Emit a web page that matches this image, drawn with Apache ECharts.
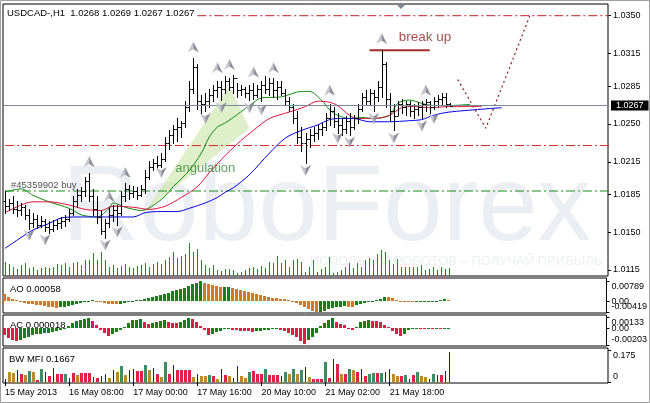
<!DOCTYPE html>
<html><head><meta charset="utf-8">
<script src="https://cdn.jsdelivr.net/npm/echarts@6/dist/echarts.min.js"></script>
<style>html,body{margin:0;padding:0;background:#fff}#c{width:650px;height:403px}</style>
</head><body><div id="c"></div>
<script>
// ---------------- DATA ----------------
const symbolTitle = 'USDCAD-,H1';
const tickLabels = ['15 May 2013','16 May 08:00','17 May 00:00','17 May 16:00','20 May 10:00','21 May 02:00','21 May 18:00'];
const barsPerTick = 16;
const slotCount = 151;
const priceTicks = [1.0115, 1.0150, 1.0185, 1.0215, 1.0250, 1.0285, 1.0315, 1.0350];

const open = [1.0179,1.0174,1.0177,1.0171,1.0170,1.0173,1.0166,1.0158,1.0162,1.0157,
1.0160,1.0155,1.0153,1.0157,1.0158,1.0160,1.0162,1.0168,1.0179,1.0184,
1.0188,1.0197,1.0183,1.0171,1.0164,1.0151,1.0158,1.0166,1.0170,1.0168,
1.0183,1.0190,1.0186,1.0188,1.0184,1.0190,1.0201,1.0210,1.0214,1.0212,
1.0218,1.0232,1.0240,1.0245,1.0247,1.0251,1.0266,1.0282,1.0303,1.0271,
1.0268,1.0271,1.0277,1.0281,1.0284,1.0282,1.0290,1.0284,1.0292,1.0281,
1.0282,1.0279,1.0281,1.0277,1.0282,1.0286,1.0282,1.0288,1.0281,1.0284,
1.0279,1.0271,1.0266,1.0255,1.0238,1.0232,1.0236,1.0240,1.0242,1.0245,
1.0247,1.0255,1.0262,1.0253,1.0249,1.0245,1.0253,1.0247,1.0255,1.0264,
1.0275,1.0271,1.0279,1.0275,1.0284,1.0305,1.0273,1.0262,1.0257,1.0268,
1.0266,1.0268,1.0262,1.0264,1.0266,1.0268,1.0270,1.0266,1.0271,1.0273,
1.0275,1.0268];
const high = [1.0188,1.0181,1.0183,1.0179,1.0177,1.0175,1.0171,1.0168,1.0166,1.0165,
1.0162,1.0160,1.0161,1.0162,1.0164,1.0166,1.0171,1.0183,1.0190,1.0192,
1.0201,1.0205,1.0190,1.0183,1.0170,1.0162,1.0173,1.0175,1.0175,1.0188,
1.0195,1.0194,1.0193,1.0192,1.0194,1.0207,1.0216,1.0218,1.0220,1.0223,
1.0238,1.0244,1.0249,1.0255,1.0253,1.0271,1.0290,1.0311,1.0305,1.0277,
1.0279,1.0282,1.0286,1.0290,1.0290,1.0294,1.0292,1.0295,1.0288,1.0286,
1.0284,1.0286,1.0288,1.0286,1.0290,1.0294,1.0292,1.0292,1.0290,1.0290,
1.0282,1.0275,1.0268,1.0262,1.0247,1.0242,1.0245,1.0247,1.0249,1.0251,
1.0260,1.0268,1.0266,1.0260,1.0255,1.0257,1.0260,1.0258,1.0268,1.0279,
1.0281,1.0282,1.0281,1.0290,1.0318,1.0307,1.0279,1.0268,1.0271,1.0273,
1.0271,1.0271,1.0268,1.0270,1.0271,1.0273,1.0271,1.0275,1.0277,1.0279,
1.0279,1.0269];
const low = [1.0168,1.0170,1.0168,1.0165,1.0166,1.0162,1.0153,1.0155,1.0154,1.0155,
1.0151,1.0149,1.0151,1.0153,1.0154,1.0156,1.0160,1.0166,1.0173,1.0179,
1.0183,1.0179,1.0166,1.0158,1.0148,1.0145,1.0155,1.0160,1.0157,1.0166,
1.0179,1.0181,1.0182,1.0181,1.0183,1.0186,1.0199,1.0207,1.0208,1.0210,
1.0216,1.0227,1.0232,1.0234,1.0238,1.0247,1.0262,1.0279,1.0264,1.0260,
1.0262,1.0266,1.0271,1.0275,1.0272,1.0279,1.0281,1.0279,1.0275,1.0277,
1.0275,1.0272,1.0273,1.0275,1.0271,1.0279,1.0277,1.0275,1.0273,1.0277,
1.0268,1.0262,1.0251,1.0232,1.0225,1.0214,1.0229,1.0234,1.0236,1.0240,
1.0244,1.0249,1.0247,1.0242,1.0240,1.0242,1.0240,1.0245,1.0251,1.0262,
1.0268,1.0268,1.0262,1.0271,1.0275,1.0266,1.0253,1.0244,1.0258,1.0260,
1.0258,1.0257,1.0255,1.0258,1.0255,1.0262,1.0260,1.0264,1.0266,1.0268,
1.0266,1.0267];
const close = [1.0174,1.0177,1.0171,1.0170,1.0173,1.0166,1.0158,1.0162,1.0157,1.0160,
1.0155,1.0153,1.0157,1.0158,1.0160,1.0162,1.0168,1.0179,1.0184,1.0188,
1.0197,1.0183,1.0171,1.0164,1.0151,1.0158,1.0166,1.0170,1.0168,1.0183,
1.0190,1.0186,1.0188,1.0184,1.0190,1.0201,1.0210,1.0214,1.0212,1.0218,
1.0232,1.0240,1.0245,1.0247,1.0251,1.0266,1.0282,1.0303,1.0271,1.0268,
1.0271,1.0277,1.0281,1.0284,1.0282,1.0290,1.0284,1.0292,1.0281,1.0282,
1.0279,1.0281,1.0277,1.0282,1.0286,1.0282,1.0288,1.0281,1.0284,1.0279,
1.0271,1.0266,1.0255,1.0238,1.0232,1.0236,1.0240,1.0242,1.0245,1.0247,
1.0255,1.0262,1.0253,1.0249,1.0245,1.0253,1.0247,1.0255,1.0264,1.0275,
1.0271,1.0279,1.0275,1.0284,1.0305,1.0273,1.0262,1.0257,1.0268,1.0266,
1.0268,1.0262,1.0264,1.0266,1.0268,1.0270,1.0266,1.0271,1.0273,1.0275,
1.0268,1.0267];
const tickVolume = [14,12,9,7,11,13,8,9,6,8, 9,8,9,12,11,13,9,13,14,11,
16,16,23,16,24,16,9,11,8,10, 12,9,8,10,11,13,9,12,14,12,
16,19,24,18,20,22,33,24,27,16, 11,8,11,6,5,7,7,6,3,4,
6,8,9,7,10,8,14,13,20,13, 16,9,16,17,14,4,9,16,4,7,
9,19,3,4,6,9,13,8,13,9, 16,18,16,22,26,24,16,12,17,9,
9,9,9,9,11,6,7,9,6,9, 7,8];

// Alligator-style moving averages, sampled [bar, price]
const lipsGreen = [[0,1.0187],[4,1.0190],[7,1.0184],[11,1.0178],[16,1.0172],[19,1.0166],[23,1.0164],[26,1.0172],[27,1.0177],[30,1.0173],[34,1.0170],[39,1.0180],[42,1.0192],[46,1.0207],[49,1.0223],[51,1.0238],[53,1.0247],[55,1.0251],[57,1.0256],[61,1.0267],[64,1.0274],[69,1.0275],[74,1.0280],[76,1.0280],[79,1.0272],[81,1.0263],[83,1.0258],[86,1.0255],[89,1.0256],[92,1.0255],[96,1.0258],[98,1.0269],[101,1.0272],[104,1.0269],[107,1.0267],[111,1.0267],[116,1.0268]];
const teethRed = [[0,1.0168],[4,1.0175],[7,1.0178],[11,1.0178],[16,1.0175],[20,1.0171],[24,1.0170],[27,1.0174],[32,1.0173],[36,1.0171],[40,1.0174],[44,1.0182],[48,1.0192],[51,1.0205],[54,1.0217],[55,1.0221],[59,1.0235],[62,1.0244],[66,1.0255],[71,1.0261],[75,1.0266],[78,1.0271],[81,1.0270],[83,1.0267],[86,1.0258],[88,1.0255],[92,1.0255],[96,1.0258],[99,1.0265],[102,1.0266],[106,1.0265],[111,1.0266],[119,1.0266]];
const jawBlue = [[0,1.0135],[4,1.0145],[7,1.0152],[11,1.0158],[14,1.0163],[18,1.0164],[22,1.0164],[26,1.0164],[29,1.0164],[32,1.0164],[35,1.0168],[39,1.0169],[43,1.0169],[46,1.0172],[50,1.0177],[53,1.0182],[55,1.0187],[57,1.0191],[61,1.0203],[66,1.0223],[70,1.0237],[74,1.0244],[78,1.0249],[81,1.0254],[83,1.0255],[87,1.0255],[91,1.0252],[96,1.0252],[101,1.0253],[104,1.0254],[107,1.0258],[111,1.0261],[124,1.0265]];

const upFractals = [[21,1.0215],[26,1.0183],[30,1.0205],[47,1.0321],[53,1.0302],[56,1.0305],[62,1.0298],[67,1.0302],[81,1.0281],[94,1.0329],[105,1.0281]];
const downFractals = [[6,1.0147],[10,1.0143],[25,1.0138],[28,1.0150],[39,1.0205],[50,1.0255],[54,1.0265],[61,1.0265],[64,1.0263],[75,1.0207],[83,1.0237],[86,1.0233],[92,1.0255],[97,1.0237],[104,1.0248],[107,1.0255]];

const buyOrder = {text:'#45359902 buy', price:1.0188, bar:1};
const levelRed = 1.0230;
const levelTop = {price:1.0350, fromBar:48};
const breakUp = {text:'break up', price:1.0318, fromBar:91, toBar:106, labelBar:98, labelPrice:1.0330};
const angulation = {text:'angulation', bar:42, price:1.0209, wedge:[[35,1.0169],[56,1.0285],[61,1.0246]]};
const forecastPath = [[113,1.0291],[120,1.0246],[131,1.0350]];

const ao = [0.00273,0.00156,0.00078,0.00039,-0.0002,-0.00059,-0.00098,-0.00117,-0.00137,-0.00156,
-0.00176,-0.00215,-0.00234,-0.00254,-0.00234,-0.00215,-0.00195,-0.00156,-0.00117,-0.00078,
-0.00039,0.0002,0.00039,0.00012,-0.0002,-0.00059,-0.00098,-0.00117,-0.00125,-0.00098,
-0.00059,-0.00031,0.00012,0.00039,0.00059,0.00098,0.00137,0.00176,0.00215,0.00254,
0.00293,0.00332,0.0039,0.00429,0.00468,0.00527,0.00585,0.00663,0.00722,0.0078,
0.00702,0.00663,0.00624,0.00585,0.00546,0.00558,0.0057,0.00507,0.00468,0.00429,
0.0039,0.00351,0.00312,0.00273,0.00234,0.00195,0.00164,0.00137,0.00117,0.00098,
0.00078,0.00039,-0.0002,-0.00078,-0.00156,-0.00234,-0.00312,-0.0039,-0.00419,-0.004,
-0.0037,-0.00312,-0.00273,-0.00234,-0.00215,-0.00195,-0.00207,-0.00218,-0.00156,-0.00117,
-0.00078,-0.00039,0.00012,0.00039,0.00098,0.00156,0.00148,0.00117,0.00059,0.0002,
-0.0002,-0.00039,-0.00047,-0.00031,-0.00023,-0.0002,-0.00012,0.00002,0.00012,0.00035,
0.0007,0.00058];
const aoTickValues = [0.00789, 0, -0.00419];
const aoTickLabels = ['0.00789', '0.00', '-0.00419'];

const ac = [-0.0008,-0.0012,-0.00144,-0.00156,-0.0014,-0.0012,-0.00102,-0.00084,-0.00072,-0.00066,
-0.0006,-0.00054,-0.00042,-0.0003,-0.00018,0.00006,0.00024,0.0006,0.0009,0.00096,
0.00108,0.0012,0.00084,0.00036,-0.00024,-0.0006,-0.00096,-0.00072,-0.00048,-0.00024,
0.00012,0.0006,0.00096,0.00102,0.00104,0.00072,0.00048,0.0006,0.00078,0.0009,
0.00096,0.00078,0.00066,0.0006,0.00072,0.00096,0.0012,0.00108,0.00072,0.00024,
-0.00024,-0.0008,-0.00066,-0.00048,-0.0003,-0.00012,-0.00006,-0.00018,-0.00024,-0.0003,
-0.00036,-0.0004,-0.00042,-0.00036,-0.0003,-0.00024,-0.00018,-0.00012,-0.0001,-0.00018,
-0.00036,-0.0006,-0.00084,-0.00108,-0.0015,-0.00185,-0.00144,-0.00108,-0.0006,0.00024,
0.0006,0.00096,0.0012,0.00072,0.00048,0.00036,-0.00012,-0.00018,0.00012,0.00072,
0.00084,0.00096,0.0009,0.00084,0.00072,0.00036,0.00012,-0.00036,-0.00072,-0.00096,
-0.00072,-0.00024,-0.00012,-0.00008,-0.0001,-0.00012,-0.00006,-0.00007,-0.00006,-0.00007,
-0.00005,0.000018];
const acTickValues = [0.00133, 0, -0.00203];
const acTickLabels = ['0.00133', '0.00', '-0.00203'];

const mfi = [0.016,0.055,0.049,0.066,0.042,0.038,0.059,0.055,0.009,0.069,
0.055,0.031,0.078,0.045,0.045,0.042,0.022,0.049,0.037,0.049,
0.049,0.049,0.027,0.022,0.031,0.042,0.022,0.064,0.055,0.088,
0.037,0.066,0.071,0.06,0.06,0.091,0.064,0.077,0.045,0.027,
0.109,0.045,0.091,0.064,0.064,0.064,0.064,0.027,0.045,0.034,
0.034,0.037,0.031,0.016,0.073,0.037,0.031,0.022,0.088,0.031,
0.022,0.055,0.059,0.042,0.042,0.069,0.037,0.037,0.037,0.031,
0.055,0.042,0.071,0.045,0.064,0.082,0.027,0.018,0.018,0.018,
0.109,0.024,0.126,0.097,0.045,0.042,0.073,0.064,0.055,0.073,
0.031,0.042,0.049,0.049,0.049,0.055,0.069,0.045,0.031,0.031,
0.037,0.016,0.037,0.053,0.031,0.027,0.016,0.042,0.037,0.037,
0.059,0.1667];
// g = green (MFI+ Vol+), b = brown (MFI- Vol-), u = blue (MFI+ Vol-), p = pink (MFI- Vol+)
const mfiZone = ('ubbupbgbpg'+'upuppgupbp'+'ppupuububg'+'buuppgbupb'+'gpuppppbub'+
                 'bgpbupbuub'+'bgpppgpppu'+'gbgbgubppp'+'gpupbpgbpu'+'pggpguubbp'+
                 'gupgbbugup'+'uu').split('');
const mfiTickValues = [0.175, 0];
const mfiTickLabels = ['0.175', '0'];

// ---------------- CHART ----------------
const FONT = '"Liberation Sans", Arial, sans-serif';
const N = close.length;
const cats = Array.from({length: slotCount}, (_, i) => String(i));
const last = N - 1;
const firstSlot = -0.5, lastSlot = slotCount - 0.5;   // plot edges in category units

const aoColor = i => (i > 0 && ao[i] > ao[i-1]) ? '#1c7c1c' : '#d2782c';
const acColor = i => (i > 0 && ac[i] > ac[i-1]) ? '#1c7c1c' : '#dc1e46';
const mfiColors = {g:'#3d8c63', b:'#b88c2c', u:'#1a1a8c', p:'#dc2248'};

function xAxisFor(gi, showLabels) {
  return {
    type:'category', gridIndex:gi, data:cats, boundaryGap:true,
    axisLine:{show:false}, splitLine:{show:false},
    axisTick: showLabels ? {show:true, alignWithLabel:true, length:4, lineStyle:{color:'#000'},
        interval:(i)=> i % barsPerTick === 0 && (i / barsPerTick) < tickLabels.length} : {show:false},
    axisLabel: showLabels ? {show:true, interval:0, align:'left', margin:5, fontFamily:FONT, fontSize:9, color:'#000',
        formatter:(v, i)=> (i % barsPerTick === 0 && tickLabels[i / barsPerTick]) ? tickLabels[i / barsPerTick] : ''} : {show:false}
  };
}
// each indicator pane gets two right axes: one for its extreme labels, one for its zero label
function subAxes(gi, min, max, vals, texts) {
  const ext = [vals[0], vals[vals.length - 1]];
  const extTxt = [texts[0], texts[texts.length - 1]];
  const mids = vals.slice(1, -1), midTxt = texts.slice(1, -1);
  const find = (arr, v) => arr.findIndex(t => Math.abs(t - v) < 1e-9);
  const base = {type:'value', gridIndex:gi, position:'right', min:min, max:max,
    axisLine:{show:false}, splitLine:{show:false}};
  const a = Object.assign({}, base, {
    axisTick:{show:true, length:3, customValues:ext, lineStyle:{color:'#000'}},
    axisLabel:{show:true, customValues:ext, margin:5, hideOverlap:false, fontFamily:FONT, fontSize:9, color:'#000',
      formatter: v => { const k = find(ext, v); const s = k >= 0 ? extTxt[k] : String(v);
        return k === 0 ? '{t|' + s + '}' : '{b|' + s + '}'; },
      rich:{t:{padding:[11,0,0,0], fontFamily:FONT, fontSize:9, color:'#000'},
            b:{padding:[0,0,11,0], fontFamily:FONT, fontSize:9, color:'#000'}}}});
  const out = [a];
  if (mids.length) {
    out.push(Object.assign({}, base, {
      axisTick:{show:true, length:3, customValues:mids, lineStyle:{color:'#000'}},
      axisLabel:{show:true, customValues:mids, margin:5, hideOverlap:false, fontFamily:FONT, fontSize:9, color:'#000',
        formatter: v => { const k = find(mids, v); return k >= 0 ? midTxt[k] : String(v); }}}));
  }
  return out;
}
function histo(values, colorFn, widthFn) {
  return function(params, api) {
    const i = api.value(0), v = api.value(1);
    const p = api.coord([i, v]), p0 = api.coord([i, 0]);
    const w = widthFn(i);
    const x = Math.round(p[0] - w / 2);
    const y1 = Math.round(Math.min(p[1], p0[1])), y2 = Math.round(Math.max(p[1], p0[1]));
    return {type:'rect', shape:{x:x, y:y1, width:w, height:Math.max(1, y2 - y1)}, style:{fill:colorFn(i)}};
  };
}
function hLine(name, price, from, to, color, type, width) {
  return {type:'line', name:name, xAxisIndex:0, yAxisIndex:0, z:2, silent:true, showSymbol:false,
    data:[[from, price], [to, price]], lineStyle:{color:color, type:type, width:width}};
}

const chart = echarts.init(document.getElementById('c'), null, {renderer:'canvas', width:650, height:403});
const ttl = {fontFamily:FONT, fontSize:9.5, fontWeight:'normal', color:'#000'};
const dashDot = [9,3,2,3];

const aoAxes = subAxes(1, -0.00458, 0.00906, aoTickValues, aoTickLabels);
const acAxes = subAxes(2, -0.00215, 0.00157, acTickValues, acTickLabels);
const mfiAxes = subAxes(3, -0.0054688, 0.18594, mfiTickValues, mfiTickLabels);
const yAxes = [
  {type:'value', gridIndex:0, position:'right', min:1.010945, max:1.036081,
    axisLine:{show:false}, splitLine:{show:false},
    axisTick:{show:true, length:3, customValues:priceTicks, lineStyle:{color:'#000'}},
    axisLabel:{show:true, customValues:priceTicks, margin:5, hideOverlap:false, fontFamily:FONT, fontSize:9, color:'#000', formatter:v => v.toFixed(4)}},
  {type:'value', gridIndex:0, min:0, max:272, show:false}
];
const aoY = yAxes.length; yAxes.push(...aoAxes);
const acY = yAxes.length; yAxes.push(...acAxes);
const mfiY = yAxes.length; yAxes.push(...mfiAxes);

const option = {
  animation:false,
  backgroundColor:'#fff',
  title:[
    {text: symbolTitle + '  ' + [open[last], high[last], low[last], close[last]].map(v => v.toFixed(4)).join(' '), left:7, top:8, padding:0, textStyle:ttl},
    {text:'AO ' + ao[last].toFixed(5), left:10, top:284, padding:0, textStyle:ttl},
    {text:'AC ' + ac[last].toFixed(6), left:10, top:320, padding:0, textStyle:ttl},
    {text:'BW MFI ' + mfi[last].toFixed(4), left:9, top:354, padding:0, textStyle:ttl}
  ],
  graphic:[
    {type:'rect', z:0, silent:true, shape:{x:0.5, y:0.5, width:649, height:402}, style:{fill:'none', stroke:'#a0a0a0'}},
    {type:'text', z:0, silent:true, x:62, y:210, style:{text:'RoboForex', fontSize:107, fontFamily:FONT, fill:'#ebeef3', verticalAlign:'middle'}},
    {type:'text', z:0, silent:true, x:310, y:261, style:{text:'ИСПОЛЬЗУЙ РОБОТОВ – ПОЛУЧАЙ ПРИБЫЛЬ', fontSize:13, fontFamily:FONT, fill:'#edeff4', verticalAlign:'middle'}},
    {type:'polygon', z:5, silent:true, shape:{points:[[396,4],[406,4],[401,9]]}, style:{fill:'#7f8890'}}
  ],
  grid:[
    {left:3, top:4, width:605, height:272, show:true, borderColor:'#000', borderWidth:1, backgroundColor:'transparent'},
    {left:3, top:278, width:605, height:35, show:true, borderColor:'#000', borderWidth:1, backgroundColor:'transparent'},
    {left:3, top:315, width:605, height:31, show:true, borderColor:'#000', borderWidth:1, backgroundColor:'transparent'},
    {left:3, top:348, width:605, height:35, show:true, borderColor:'#000', borderWidth:1, backgroundColor:'transparent'}
  ],
  xAxis:[xAxisFor(0,false), xAxisFor(1,false), xAxisFor(2,false), xAxisFor(3,true)],
  yAxis:yAxes,
  series:[
    {type:'custom', name:'angulation', xAxisIndex:0, yAxisIndex:0, z:1, silent:true,
      data:[angulation.wedge[0]],
      renderItem:(params, api) => ({type:'polygon', shape:{points:angulation.wedge.map(p => api.coord(p))},
        style:{fill:'rgba(200,229,165,0.6)'}})},
    {type:'custom', name:'volume', xAxisIndex:0, yAxisIndex:1, z:2, silent:true,
      data:tickVolume.map((v,i) => [i, v]), encode:{x:0, y:1},
      renderItem:histo(tickVolume, () => '#2f7f2f', () => 1)},
    {type:'line', name:'price', xAxisIndex:0, yAxisIndex:0, z:2, data:[], silent:true, showSymbol:false,
      markLine:{silent:true, symbol:['none','none'], precision:4, animation:false,
        lineStyle:{color:'#778899', type:'solid', width:1},
        label:{show:true, position:'end', distance:3, formatter:close[last].toFixed(4), backgroundColor:'#000', color:'#fff',
          fontFamily:FONT, fontSize:9, padding:[1,5,0,5]},
        data:[{yAxis:close[last]}]}},
    hLine('levelRed', levelRed, firstSlot, lastSlot, '#d8282c', dashDot, 1),
    hLine('buyLevel', buyOrder.price, firstSlot, lastSlot, '#1a8a1a', dashDot, 1),
    hLine('levelTop', levelTop.price, levelTop.fromBar, lastSlot, '#c42028', dashDot, 1),
    hLine('breakUp', breakUp.price, breakUp.fromBar, breakUp.toBar, '#a52a2a', 'solid', 2),
    {type:'line', name:'lips', xAxisIndex:0, yAxisIndex:0, z:3, data:lipsGreen, smooth:0.3, showSymbol:false, silent:true,
      lineStyle:{color:'#108a10', width:1}},
    {type:'line', name:'teeth', xAxisIndex:0, yAxisIndex:0, z:3, data:teethRed, smooth:0.3, showSymbol:false, silent:true,
      lineStyle:{color:'#dc143c', width:1}},
    {type:'line', name:'jaw', xAxisIndex:0, yAxisIndex:0, z:3, data:jawBlue, smooth:0.3, showSymbol:false, silent:true,
      lineStyle:{color:'#0000e6', width:1}},
    {type:'line', name:'forecast', xAxisIndex:0, yAxisIndex:0, z:3, data:forecastPath, showSymbol:false, silent:true,
      lineStyle:{color:'#8b1a1a', width:1.2, type:[2,3]}},
    {type:'custom', name:'bars', xAxisIndex:0, yAxisIndex:0, z:4, silent:true,
      data:open.map((o,i) => [i, o, high[i], low[i], close[i]]), encode:{x:0, y:[1,2,3,4]},
      renderItem:(params, api) => {
        const i = api.value(0);
        const pO = api.coord([i, api.value(1)]), pH = api.coord([i, api.value(2)]);
        const pL = api.coord([i, api.value(3)]), pC = api.coord([i, api.value(4)]);
        const x = Math.round(pH[0]) + 0.5;
        const yo = Math.round(pO[1]) + 0.5, yc = Math.round(pC[1]) + 0.5;
        const st = {stroke:'#000', lineWidth:1};
        return {type:'group', children:[
          {type:'line', shape:{x1:x, y1:Math.round(pH[1]), x2:x, y2:Math.round(pL[1]) + 1}, style:st},
          {type:'line', shape:{x1:x - 2, y1:yo, x2:x, y2:yo}, style:st},
          {type:'line', shape:{x1:x, y1:yc, x2:x + 2, y2:yc}, style:st}
        ]};
      }},
    {type:'scatter', name:'fractalUpL', xAxisIndex:0, yAxisIndex:0, z:5, silent:true, data:upFractals,
      symbol:'path://M5 0 L5 7 L0 10 Z', symbolSize:[5.5,11], symbolOffset:[-2.75,0], itemStyle:{color:'#c4c4cc', opacity:1}},
    {type:'scatter', name:'fractalUpR', xAxisIndex:0, yAxisIndex:0, z:5, silent:true, data:upFractals,
      symbol:'path://M5 0 L10 10 L5 7 Z', symbolSize:[5.5,11], symbolOffset:[2.75,0], itemStyle:{color:'#8e8e9c', opacity:1}},
    {type:'scatter', name:'fractalDnL', xAxisIndex:0, yAxisIndex:0, z:5, silent:true, data:downFractals,
      symbol:'path://M5 10 L0 0 L5 3 Z', symbolSize:[5.5,11], symbolOffset:[-2.75,0], itemStyle:{color:'#c4c4cc', opacity:1}},
    {type:'scatter', name:'fractalDnR', xAxisIndex:0, yAxisIndex:0, z:5, silent:true, data:downFractals,
      symbol:'path://M5 10 L5 3 L10 0 Z', symbolSize:[5.5,11], symbolOffset:[2.75,0], itemStyle:{color:'#8e8e9c', opacity:1}},
    {type:'scatter', name:'notes', xAxisIndex:0, yAxisIndex:0, z:6, silent:true, symbolSize:0,
      data:[
        {value:[buyOrder.bar, buyOrder.price], label:{show:true, position:'right', distance:2, offset:[0,-6], formatter:buyOrder.text,
          fontFamily:FONT, fontSize:9.5, color:'#222'}},
        {value:[angulation.bar, angulation.price], label:{show:true, position:'right', distance:2, formatter:angulation.text,
          fontFamily:FONT, fontSize:13, color:'#3a8a3a'}},
        {value:[breakUp.labelBar, breakUp.labelPrice], label:{show:true, position:'right', distance:1, formatter:breakUp.text,
          fontFamily:FONT, fontSize:13.5, color:'#8b1a1a'}}
      ]},
    {type:'custom', name:'AO', xAxisIndex:1, yAxisIndex:aoY, silent:true,
      data:ao.map((v,i) => [i, v]), encode:{x:0, y:1}, renderItem:histo(ao, aoColor, () => 3)},
    {type:'custom', name:'AC', xAxisIndex:2, yAxisIndex:acY, silent:true,
      data:ac.map((v,i) => [i, v]), encode:{x:0, y:1}, renderItem:histo(ac, acColor, () => 3)},
    {type:'custom', name:'MFI', xAxisIndex:3, yAxisIndex:mfiY, silent:true,
      data:mfi.map((v,i) => [i, v]), encode:{x:0, y:1},
      renderItem:histo(mfi, i => mfiColors[mfiZone[i]], i => mfiZone[i] === 'u' ? 1 : 3)}
  ]
};
chart.setOption(option);
</script></body></html>
